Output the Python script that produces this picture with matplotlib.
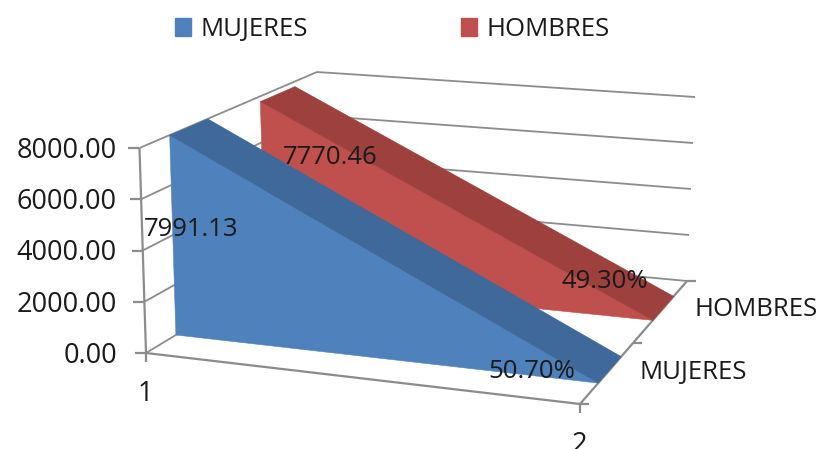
import numpy as np
from matplotlib import pyplot as plt
from matplotlib.patches import Patch

series_names = ["MUJERES", "HOMBRES"]
categories = ["1", "2"]
mujeres_values = [7991.13, 0.507]
hombres_values = [7770.46, 0.493]
value_ticks = [0, 2000, 4000, 6000, 8000]

VALUE_MAX = 8000.0
# Pixel position of the corners of the 3d box: (category, depth) floor and top.
FLOOR = {(0, 0): (146, 353), (1, 0): (580, 404), (0, 1): (322, 247), (1, 1): (687, 281)}
TOP = {(0, 0): (139.5, 148), (1, 0): (572, 178), (0, 1): (317, 72), (1, 1): (695, 97)}

# Depth of each series band in the box
BANDS = {"MUJERES": (0.17, 0.385), "HOMBRES": (0.68, 0.875)}

BLUE, BLUE_TOP = "#4f81bd", "#3f699b"
RED, RED_TOP = "#c0504d", "#9e403e"
GRID = "#8c8c8c"
TEXT = "#1a1a1a"
FONT = "Open Sans"
NAME_SIZE = 18.5
TICK_SIZE = 19.5
LABEL_SIZE = 18.5


def project(cat, depth, value):
	# Map box coordinates to pixels by blending the corners.
	h = value / VALUE_MAX
	result = np.zeros(2)
	for (c, d), floor in FLOOR.items():
		weight = (cat if c else 1 - cat) * (depth if d else 1 - depth)
		result += weight * ((1 - h) * np.array(floor) + h * np.array(TOP[(c, d)]))
	return result


def draw_line(ax, start, end, width=1.3, color=GRID):
	ax.plot([start[0], end[0]], [start[1], end[1]], color=color, lw=width,
		solid_capstyle="butt", zorder=2)


def draw_area(ax, values, band, front_color, top_color):
	near, far = band
	front = [project(0, near, 0), project(0, near, values[0]),
		project(1, near, values[1]), project(1, near, 0)]
	top = [project(0, near, values[0]), project(0, far, values[0]),
		project(1, far, values[1]), project(1, near, values[1])]
	ax.fill(*zip(*front), color=front_color, lw=0.4, zorder=3)
	ax.fill(*zip(*top), color=top_color, lw=0.4, zorder=3)


fig = plt.figure(figsize=(8.2, 4.49), dpi=100)
ax = fig.add_axes([0, 0, 1, 1])
ax.set_xlim(0, 820)
ax.set_ylim(449, 0)
ax.axis("off")

# Walls
for tick in value_ticks:
	draw_line(ax, project(0, 0, tick), project(0, 1, tick))
	draw_line(ax, project(0, 1, tick), project(1, 1, tick))
	left = project(0, 0, tick)
	draw_line(ax, left - [11, 0], left, width=1.6)
	ax.text(117, left[1] + 3, "%.2f" % tick, ha="right", va="center",
		fontsize=TICK_SIZE, family=FONT, color=TEXT)

# Floor and axes
draw_line(ax, project(0, 0, 0), project(0, 0, VALUE_MAX), width=1.6)
draw_line(ax, project(0, 0, 0), project(1, 0, 0), width=1.6)
draw_line(ax, project(1, 0, 0), project(1, 1, 0), width=1.6)
for i, name in enumerate(categories):
	base = project(i, 0, 0)
	draw_line(ax, base, base + [0, 9], width=1.6)
for depth in [0, 0.5, 1]:
	base = project(1, depth, 0)
	draw_line(ax, base, base + [9, 0], width=1.6)

draw_area(ax, hombres_values, BANDS["HOMBRES"], RED, RED_TOP)
draw_area(ax, mujeres_values, BANDS["MUJERES"], BLUE, BLUE_TOP)

# Axis labels
for name, x, y in zip(categories, [145, 579], [394, 445]):
	ax.text(x, y, name, ha="center", va="center", fontsize=TICK_SIZE, family=FONT, color=TEXT, zorder=5)
for name, x, y in zip(series_names, [640, 695], [372, 310]):
	ax.text(x, y, name, ha="left", va="center", fontsize=NAME_SIZE, family=FONT, color=TEXT, zorder=5)

# Data labels
label_texts = ["%.2f" % mujeres_values[0], "%.2f" % hombres_values[0],
	"%.2f%%" % (hombres_values[1] * 100), "%.2f%%" % (mujeres_values[1] * 100)]
label_pos = [(191, 229), (330, 157), (605, 281), (532, 371)]
for label, (x, y) in zip(label_texts, label_pos):
	ax.text(x, y, label, ha="center", va="center", fontsize=LABEL_SIZE, family=FONT, color=TEXT, zorder=6)

# Legend
handles = [Patch(color=BLUE), Patch(color=RED)]
fig.legend(handles, series_names, loc="center left", bbox_to_anchor=(0.2134, 0.9335), ncol=2,
	frameon=False, prop={"family": FONT, "size": NAME_SIZE}, labelcolor=TEXT,
	handlelength=0.62, handleheight=0.7, handletextpad=0.38, columnspacing=5.95,
	borderpad=0, borderaxespad=0)

fig.savefig("out.png", dpi=100)
